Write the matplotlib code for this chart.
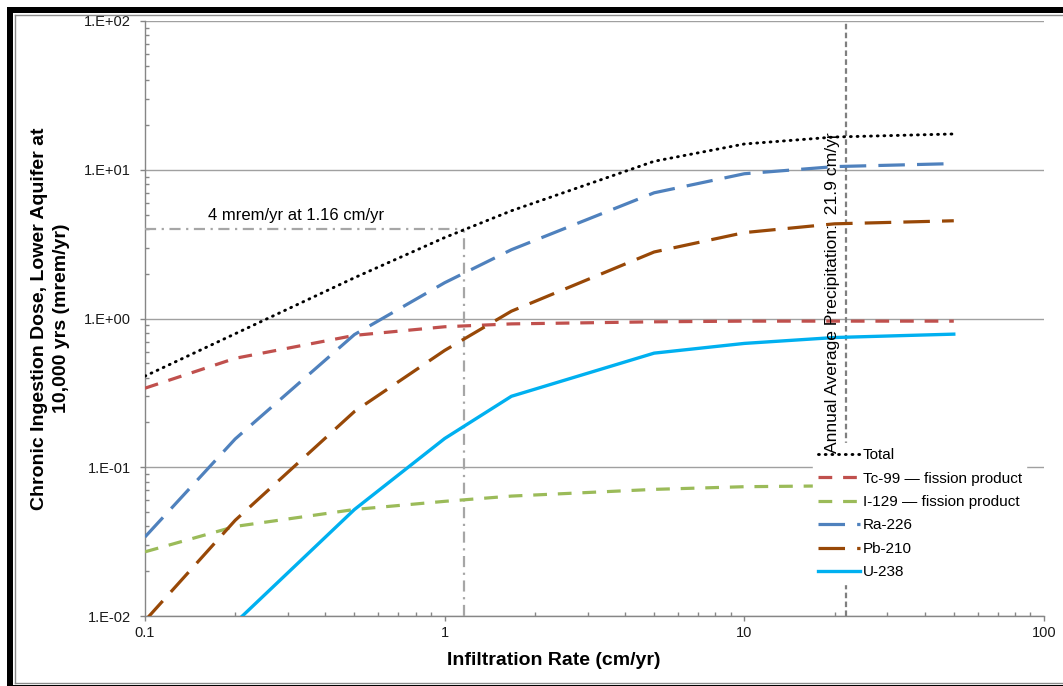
import matplotlib
matplotlib.use("Agg")
import matplotlib.pyplot as plt
from matplotlib.patches import Rectangle
from matplotlib.lines import Line2D
import matplotlib.ticker as mticker

plt.rcParams['font.family'] = ['Liberation Sans', 'DejaVu Sans']

# infiltration rates (cm/yr) and dose per nuclide (mrem/yr)
rate = [0.1, 0.2, 0.5, 1, 1.67, 5, 10, 20, 50]
total = [0.41, 0.79, 1.88, 3.5, 5.3, 11.4, 14.9, 16.6, 17.4]
tc99 = [0.34, 0.54, 0.77, 0.88, 0.92, 0.95, 0.96, 0.96, 0.96]
i129 = [0.027, 0.040, 0.052, 0.059, 0.064, 0.071, 0.074, 0.075, 0.076]
ra226 = [0.034, 0.155, 0.78, 1.74, 2.9, 7.0, 9.4, 10.5, 11.0]
pb210 = [0.0093, 0.044, 0.237, 0.61, 1.12, 2.8, 3.78, 4.33, 4.54]
u238 = [0.0024, 0.009, 0.052, 0.156, 0.30, 0.585, 0.68, 0.745, 0.785]

precip = 21.9
dose_limit = 4
rate_at_limit = 1.16

xticks = [0.1, 1, 10, 100]
xtick_labels = ['0.1', '1', '10', '100']
yticks = [0.01, 0.1, 1, 10, 100]
ytick_labels = ['1.E-02', '1.E-01', '1.E+00', '1.E+01', '1.E+02']

fig = plt.figure(figsize=(10.63, 6.86), dpi=100)
ax = fig.add_axes([145/1063, 70/686, 899/1063, 595/686])
ax.set_xscale('log')
ax.set_yscale('log')
ax.set_xlim(0.1, 100)
ax.set_ylim(0.01, 100)

ax.plot(rate, total, color='black', lw=2.1, linestyle=(0, (0.3, 2.0)),
        dash_capstyle='round', label='Total', zorder=5)
ax.plot(rate, tc99, color='#C0504D', lw=2.3, linestyle=(0, (4.3, 3.4)),
        label='Tc-99 \u2014 fission product', zorder=4)
ax.plot(rate, i129, color='#9BBB59', lw=2.3, linestyle=(0, (4.3, 3.4)),
        label='I-129 \u2014 fission product', zorder=4)
ax.plot(rate, ra226, color='#4F81BD', lw=2.3, linestyle=(0, (8.3, 3.8)),
        label='Ra-226', zorder=4)
ax.plot(rate, pb210, color='#984807', lw=2.3, linestyle=(0, (8.3, 3.8)),
        label='Pb-210', zorder=4)
ax.plot(rate, u238, color='#00B0F0', lw=2.4, label='U-238', zorder=4)

# reference lines
ax.axvline(precip, color='#7F7F7F', lw=1.6, linestyle=(0, (2.5, 1.5)), zorder=3)
ax.plot([0.1, rate_at_limit], [dose_limit, dose_limit], color='#A6A6A6', lw=1.6,
        linestyle=(0, (5, 2.5, 1, 2.5)), zorder=3)
ax.plot([rate_at_limit, rate_at_limit], [0.01, dose_limit], color='#A6A6A6', lw=1.6,
        linestyle=(0, (5, 2.5, 1, 2.5)), zorder=3)

ax.text(0.162, 4.9, '4 mrem/yr at 1.16 cm/yr', fontsize=12, va='center', ha='left')
ax.text(19.7, 1.5, 'Annual Average Precipitation:  21.9 cm/yr', fontsize=12.6,
        rotation=90, ha='center', va='center', zorder=11)

# axes styling
ax.grid(True, which='major', axis='y', color='#A0A0A0', lw=1)
ax.grid(False, axis='x')
for s in ['top', 'right']:
    ax.spines[s].set_visible(False)
for s in ['left', 'bottom']:
    ax.spines[s].set_color('#868686')
    ax.spines[s].set_linewidth(1)

ax.xaxis.set_major_locator(mticker.FixedLocator(xticks))
ax.xaxis.set_major_formatter(mticker.FixedFormatter(xtick_labels))
ax.yaxis.set_major_locator(mticker.FixedLocator(yticks))
ax.yaxis.set_major_formatter(mticker.FixedFormatter(ytick_labels))
ax.xaxis.set_minor_locator(mticker.LogLocator(base=10, subs=range(2, 10)))
ax.yaxis.set_minor_locator(mticker.LogLocator(base=10, subs=range(2, 10)))
ax.xaxis.set_minor_formatter(mticker.NullFormatter())
ax.yaxis.set_minor_formatter(mticker.NullFormatter())
ax.tick_params(which='major', direction='out', length=3.5, width=1, color='#868686',
               labelsize=10.5, labelcolor='#1a1a1a')
ax.tick_params(axis='y', which='major', pad=6.5)
ax.tick_params(axis='x', which='major', pad=4)
ax.tick_params(which='minor', direction='in', length=3, width=1, color='#868686')

ax.set_xlabel('Infiltration Rate (cm/yr)', fontsize=14, fontweight='bold')
ax.xaxis.set_label_coords(0.455, -0.061)
ax.set_ylabel('Chronic Ingestion Dose, Lower Aquifer at\n10,000 yrs (mrem/yr)',
              fontsize=14, fontweight='bold', linespacing=1.4)
ax.yaxis.set_label_coords(-0.083, 0.5)

leg = ax.legend(loc='upper left', bbox_to_anchor=(0.743, 0.29), fontsize=11,
                frameon=True, fancybox=False, edgecolor='white', facecolor='white',
                framealpha=1, handlelength=2.75, handletextpad=0.2,
                labelspacing=0.62, borderpad=0.3, borderaxespad=0)
leg.set_zorder(10)

# outer frame
fig.add_artist(Rectangle((7/1063, 1 - 13/686), 1 - 7/1063, 6/686, transform=fig.transFigure,
                         color='black', lw=0))
fig.add_artist(Rectangle((7/1063, 0), 6/1063, 1 - 7/686, transform=fig.transFigure,
                         color='black', lw=0))
fig.add_artist(Line2D([15/1063, 15/1063], [3.5/686, 1 - 15/686], transform=fig.transFigure,
                      color='#8C8C8C', lw=1))
fig.add_artist(Line2D([15/1063, 1], [1 - 15/686, 1 - 15/686], transform=fig.transFigure,
                      color='#8C8C8C', lw=1))
fig.add_artist(Line2D([15/1063, 1], [3.5/686, 3.5/686], transform=fig.transFigure,
                      color='#8C8C8C', lw=1))
fig.add_artist(Rectangle((7/1063, 0), 1, 1.5/686, transform=fig.transFigure,
                         color='black', lw=0))

fig.savefig('out.png', dpi=100)
